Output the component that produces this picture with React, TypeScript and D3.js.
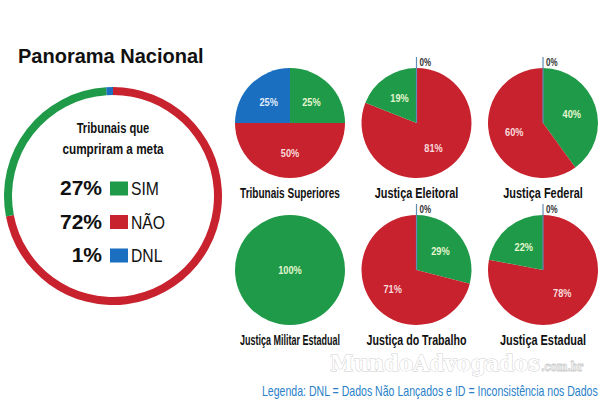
import React, { useEffect, useRef } from "react";
import * as d3 from "d3";

// national ring
const answers = ["SIM", "NÃO", "DNL"];
const nationalShares = [27, 72, 1];
const ringOrder = ["NÃO", "SIM", "DNL"];

// small pies, one per court branch
const courts = [
  "Tribunais Superiores",
  "Justiça Eleitoral",
  "Justiça Federal",
  "Justiça Militar Estadual",
  "Justiça do Trabalho",
  "Justiça Estadual",
];
const simShares = [25, 19, 40, 100, 29, 22];
const naoShares = [50, 81, 60, 0, 71, 78];
const dnlShares = [25, 0, 0, 0, 0, 0];
const naoFirst = [false, true, false, false, false, true];
const zeroMarked = [false, true, true, false, true, true];

const colors = { SIM: "#1e9a48", "NÃO": "#c8222e", DNL: "#1a6fc0" };
const tints = { SIM: "#e4f6cf", "NÃO": "#f9dcdc", DNL: "#e2ecfa" };
const FONT = "'Liberation Sans', Arial, sans-serif";

// text with horizontal squeeze (the original uses a condensed face)
const label = (g, x, y, txt, o: any = {}) => {
  const t = g
    .append("text")
    .text(txt)
    .attr("font-family", o.family || FONT)
    .attr("font-size", o.size || 12)
    .attr("font-weight", o.weight || "normal")
    .attr("text-anchor", o.anchor || "middle")
    .attr("fill", o.fill || "#111");
  if (o.stroke) t.attr("stroke", o.stroke).attr("stroke-width", o.strokeWidth || 1);
  const w = (t.node() as SVGTextElement).getComputedTextLength();
  let s = o.sx || 1;
  if (o.maxW && w * s > o.maxW) s = o.maxW / w;
  t.attr("transform", `translate(${x},${y}) scale(${s},1)`);
  return t;
};

const App = () => {
  const ref = useRef(null);

  useEffect(() => {
    drawChart();
  }, []);

  const drawChart = () => {
    const width = 600,
      height = 400;

    const svg = d3
      .select(ref.current)
      .html("")
      .append("svg")
      .attr("width", width)
      .attr("height", height)
      .style("position", "absolute")
      .style("left", 0)
      .style("top", 0)
      .style("background", "#fff");

    // title
    label(svg, 18, 63, "Panorama Nacional", { size: 20, weight: "bold", anchor: "start" });

    // national ring
    const cx = 113,
      cy = 196;
    const ringData = ringOrder.map((a) => ({ answer: a, value: nationalShares[answers.indexOf(a)] }));
    const ringPie = d3.pie().sort(null).value((d) => d.value);
    const ringArc = d3.arc().innerRadius(101).outerRadius(109);
    const ring = svg.append("g").attr("transform", `translate(${cx},${cy})`);
    ring
      .selectAll("path")
      .data(ringPie(ringData))
      .join("path")
      .attr("d", ringArc)
      .attr("fill", (d) => colors[d.data.answer]);

    label(svg, cx, 133, "Tribunais que", { size: 14, weight: "bold", sx: 0.8 });
    label(svg, cx, 154, "cumpriram a meta", { size: 14, weight: "bold", sx: 0.84 });

    const rowY = d3.scalePoint().domain(answers).range([195, 262]);
    answers.forEach((a, i) => {
      const y = rowY(a);
      label(svg, 102, y, `${nationalShares[i]}%`, { size: 21, weight: "bold", anchor: "end" });
      svg
        .append("rect")
        .attr("x", 110)
        .attr("y", y - 13.5)
        .attr("width", 18)
        .attr("height", 14)
        .attr("fill", colors[a]);
      label(svg, 131, y, a, { size: 18.5, anchor: "start", sx: 0.85 });
    });

    // small pies
    const r = 55;
    const colX = d3.scalePoint().domain([0, 1, 2]).range([290, 543]);
    const rowYP = d3.scalePoint().domain([0, 1]).range([123, 270]);
    const pie = d3.pie().sort(null).value((d) => d.value);
    const arc = d3.arc().innerRadius(0).outerRadius(r);
    const labelArc = d3.arc().innerRadius(0).outerRadius(r * 1.1);

    courts.forEach((name, i) => {
      const px = colX(i % 3),
        py = rowYP(Math.floor(i / 3));
      const order = naoFirst[i] ? ["NÃO", "SIM", "DNL"] : ["SIM", "NÃO", "DNL"];
      const values = { SIM: simShares[i], "NÃO": naoShares[i], DNL: dnlShares[i] };
      const slices = pie(order.map((a) => ({ answer: a, value: values[a] })));
      const g = svg.append("g").attr("transform", `translate(${px},${py})`);

      g.selectAll("path")
        .data(slices.filter((d) => d.data.value > 0))
        .join("path")
        .attr("d", arc)
        .attr("fill", (d) => colors[d.data.answer]);

      slices
        .filter((d) => d.data.value > 0)
        .forEach((d) => {
          const [lx, ly] = d.data.value >= 100 ? [0, 0] : labelArc.centroid(d);
          label(g, lx, ly + 4, `${d.data.value}%`, {
            size: 11.5,
            weight: "bold",
            fill: tints[d.data.answer],
            sx: 0.8,
          });
        });

      if (zeroMarked[i]) {
        g.append("line")
          .attr("x1", 0)
          .attr("y1", 0)
          .attr("x2", 0)
          .attr("y2", -r - 11)
          .attr("stroke", "#5f8db8")
          .attr("stroke-width", 1.2);
        label(g, 3, -r - 2, "0%", { size: 10, weight: "bold", anchor: "start", fill: "#333", sx: 0.8 });
      }

      label(g, 0, r + 20, name, { size: 14, weight: "bold", sx: 0.78, maxW: 100 });
    });

    // watermark
    const wm = label(svg, 330, 371, "MundoAdvogados", {
      family: "'DejaVu Serif', serif",
      size: 22,
      weight: "bold",
      anchor: "start",
      fill: "#fff",
      stroke: "#cfcfcf",
      maxW: 210,
      sx: 1,
    });
    wm.attr("paint-order", "stroke");
    label(svg, 541, 371, ".com.br", {
      family: "'DejaVu Serif', serif",
      size: 12,
      weight: "bold",
      anchor: "start",
      fill: "#fff",
      stroke: "#cfcfcf",
      maxW: 42,
    });

    // bottom legend
    label(svg, 262, 396, "Legenda:   DNL = Dados Não Lançados e  ID = Inconsistência nos Dados", {
      size: 14,
      anchor: "start",
      fill: "#2a7fc8",
      maxW: 336,
    });
  };

  return <div ref={ref}></div>;
};

export default App;
